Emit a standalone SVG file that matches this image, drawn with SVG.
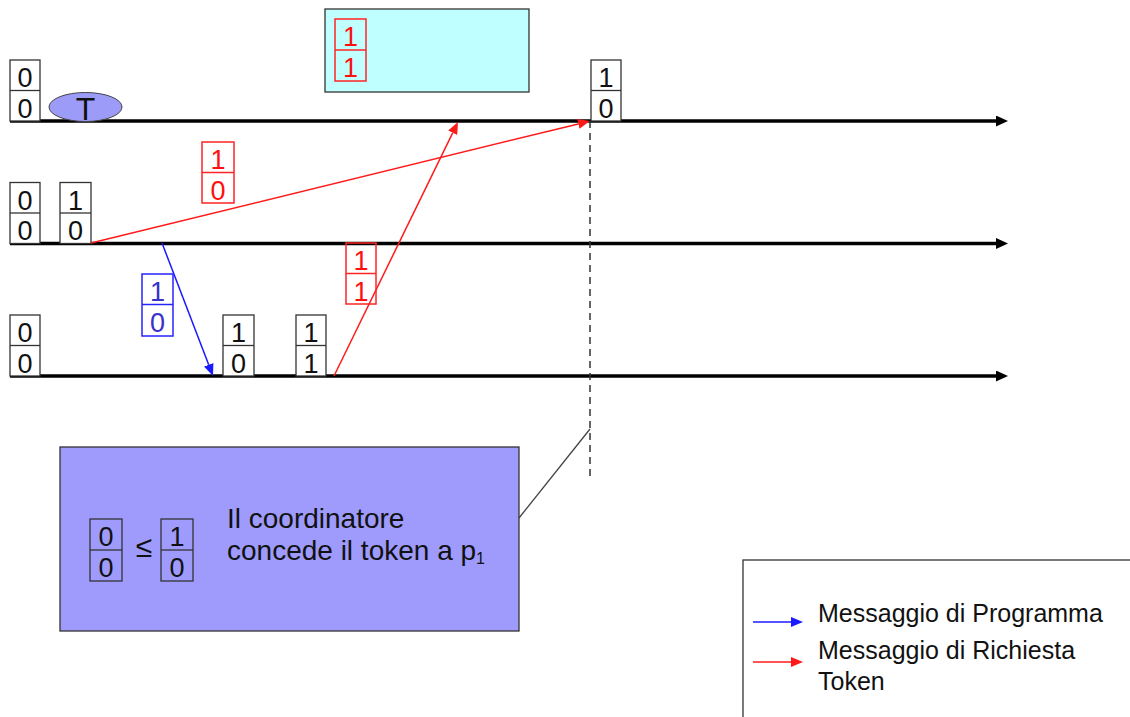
<svg xmlns="http://www.w3.org/2000/svg" width="1130" height="717" viewBox="0 0 1130 717">
  <style>
    .box { fill: #ffffff; stroke: #333333; stroke-width: 1.3; }
    .rbox { fill: none; stroke: #ff2424; stroke-width: 1.5; }
    .bbox { fill: none; stroke: #2424ff; stroke-width: 1.5; }
    .d { font-family: "Liberation Sans", Arial, sans-serif; font-size: 27px; text-anchor: middle; fill: #111111; }
    .dr { fill: #ff1010; }
    .db { fill: #3a30cc; }
    .lbl { font-family: "Liberation Sans", Arial, sans-serif; font-size: 28px; fill: #111111; }
    .leg { font-family: "Liberation Sans", Arial, sans-serif; font-size: 25px; fill: #111111; }
    .time { stroke: #000000; stroke-width: 3.5; fill: none; }
    .msgr { stroke: #ff1a1a; stroke-width: 1.5; fill: none; }
    .msgb { stroke: #1a1aff; stroke-width: 1.5; fill: none; }
  </style>
  <defs>
    <marker id="headK" viewBox="0 0 12 11" refX="0" refY="5.5" markerWidth="12" markerHeight="11" markerUnits="userSpaceOnUse" orient="auto">
      <path d="M0,0 L12,5.5 L0,11 z" fill="#000000"/>
    </marker>
    <marker id="headR" viewBox="0 0 12 10" refX="0" refY="5" markerWidth="12" markerHeight="10" markerUnits="userSpaceOnUse" orient="auto">
      <path d="M0,0 L12,5 L0,10 z" fill="#ff1a1a"/>
    </marker>
    <marker id="headB" viewBox="0 0 12 10" refX="0" refY="5" markerWidth="12" markerHeight="10" markerUnits="userSpaceOnUse" orient="auto">
      <path d="M0,0 L12,5 L0,10 z" fill="#1a1aff"/>
    </marker>
  </defs>

  <rect width="1130" height="717" fill="#ffffff"/>

  <!-- pending request queue -->
  <g id="queue">
    <rect x="325" y="9" width="204" height="83" fill="#c0ffff" stroke="#333333" stroke-width="1.3"/>
    <rect class="rbox" x="335" y="19" width="31" height="62"/>
    <line class="rbox" x1="335" y1="50" x2="366" y2="50"/>
    <text class="d dr" x="350.5" y="46">1</text>
    <text class="d dr" x="350.5" y="77">1</text>
  </g>

  <!-- process time lines -->
  <g id="timelines">
    <line class="time" x1="10" y1="121" x2="996" y2="121" marker-end="url(#headK)"/>
    <line class="time" x1="10" y1="243.5" x2="996" y2="243.5" marker-end="url(#headK)"/>
    <line class="time" x1="10" y1="376" x2="996" y2="376" marker-end="url(#headK)"/>
  </g>

  <!-- token holder -->
  <g id="token">
    <ellipse cx="85.5" cy="107" rx="36.5" ry="14.5" fill="#9d9bf8" stroke="#444444" stroke-width="1"/>
    <text class="d" x="85.5" y="119.5" style="font-size:32px">T</text>
  </g>

  <!-- vector clocks on p0 -->
  <g id="p0-clock-a">
    <rect class="box" x="10" y="60" width="30" height="61"/>
    <line class="box" x1="10" y1="90.5" x2="40" y2="90.5"/>
    <text class="d" x="25" y="87">0</text>
    <text class="d" x="25" y="117.5">0</text>
  </g>
  <g id="p0-clock-b">
    <rect class="box" x="591" y="60" width="30" height="61"/>
    <line class="box" x1="591" y1="90.5" x2="621" y2="90.5"/>
    <text class="d" x="606" y="87">1</text>
    <text class="d" x="606" y="117.5">0</text>
  </g>

  <!-- vector clocks on p1 -->
  <g id="p1-clock-a">
    <rect class="box" x="10" y="182.5" width="30" height="61"/>
    <line class="box" x1="10" y1="213" x2="40" y2="213"/>
    <text class="d" x="25" y="209.5">0</text>
    <text class="d" x="25" y="240">0</text>
  </g>
  <g id="p1-clock-b">
    <rect class="box" x="60" y="182.5" width="31" height="61"/>
    <line class="box" x1="60" y1="213" x2="91" y2="213"/>
    <text class="d" x="75.5" y="209.5">1</text>
    <text class="d" x="75.5" y="240">0</text>
  </g>

  <!-- vector clocks on p2 -->
  <g id="p2-clock-a">
    <rect class="box" x="10" y="315" width="30" height="61"/>
    <line class="box" x1="10" y1="345.5" x2="40" y2="345.5"/>
    <text class="d" x="25" y="342">0</text>
    <text class="d" x="25" y="372.5">0</text>
  </g>
  <g id="p2-clock-b">
    <rect class="box" x="223" y="315" width="31" height="61"/>
    <line class="box" x1="223" y1="345.5" x2="254" y2="345.5"/>
    <text class="d" x="238.5" y="342">1</text>
    <text class="d" x="238.5" y="372.5">0</text>
  </g>
  <g id="p2-clock-c">
    <rect class="box" x="296" y="315" width="30" height="61"/>
    <line class="box" x1="296" y1="345.5" x2="326" y2="345.5"/>
    <text class="d" x="311" y="342">1</text>
    <text class="d" x="311" y="372.5">1</text>
  </g>

  <!-- messages -->
  <g id="messages">
    <line class="msgr" x1="91" y1="243" x2="578.3" y2="123.9" marker-end="url(#headR)"/>
    <line class="msgr" x1="334" y1="376" x2="452.7" y2="132.8" marker-end="url(#headR)"/>
    <line class="msgb" x1="162" y1="243" x2="208.7" y2="364.8" marker-end="url(#headB)"/>
    <line x1="590" y1="121" x2="590" y2="478" stroke="#333333" stroke-width="1.5" stroke-dasharray="7,5"/>
    <line x1="519" y1="518" x2="590" y2="429" stroke="#444444" stroke-width="1.3"/>
  </g>

  <!-- timestamps carried by messages -->
  <g id="msg-clock-p1-request">
    <rect class="rbox" x="202" y="142" width="32" height="61"/>
    <line class="rbox" x1="202" y1="172.5" x2="234" y2="172.5"/>
    <text class="d dr" x="218" y="169">1</text>
    <text class="d dr" x="218" y="199.5">0</text>
  </g>
  <g id="msg-clock-program">
    <rect class="bbox" x="142" y="274" width="31" height="62"/>
    <line class="bbox" x1="142" y1="304.5" x2="173" y2="304.5"/>
    <text class="d db" x="157.5" y="301">1</text>
    <text class="d db" x="157.5" y="332">0</text>
  </g>
  <g id="msg-clock-p2-request">
    <rect class="rbox" x="346" y="243" width="30" height="61"/>
    <line class="rbox" x1="346" y1="273.5" x2="376" y2="273.5"/>
    <text class="d dr" x="361" y="270">1</text>
    <text class="d dr" x="361" y="300.5">1</text>
  </g>

  <!-- coordinator decision note -->
  <g id="decision">
    <rect x="60" y="447" width="459" height="184" fill="#9e9bfc" stroke="#333333" stroke-width="1.3"/>
    <rect class="box" x="90" y="519" width="32" height="62" style="fill:none"/>
    <line class="box" x1="90" y1="550" x2="122" y2="550"/>
    <text class="d" x="106" y="546">0</text>
    <text class="d" x="106" y="577">0</text>
    <text class="d" x="144" y="557" style="font-size:30px">≤</text>
    <rect class="box" x="161" y="519" width="32" height="62" style="fill:none"/>
    <line class="box" x1="161" y1="550" x2="193" y2="550"/>
    <text class="d" x="177" y="546">1</text>
    <text class="d" x="177" y="577">0</text>
    <text class="lbl" x="227" y="528">Il coordinatore</text>
    <text class="lbl" x="227" y="560">concede il token a p<tspan font-size="16" dy="4">1</tspan></text>
  </g>

  <!-- legend -->
  <g id="legend">
    <rect x="743" y="560" width="400" height="200" fill="#ffffff" stroke="#333333" stroke-width="1.3"/>
    <line class="msgb" x1="753" y1="622" x2="791" y2="622" marker-end="url(#headB)"/>
    <line class="msgr" x1="753" y1="662" x2="791" y2="662" marker-end="url(#headR)"/>
    <text class="leg" x="818" y="622">Messaggio di Programma</text>
    <text class="leg" x="818" y="659">Messaggio di Richiesta</text>
    <text class="leg" x="818" y="690">Token</text>
  </g>
</svg>
